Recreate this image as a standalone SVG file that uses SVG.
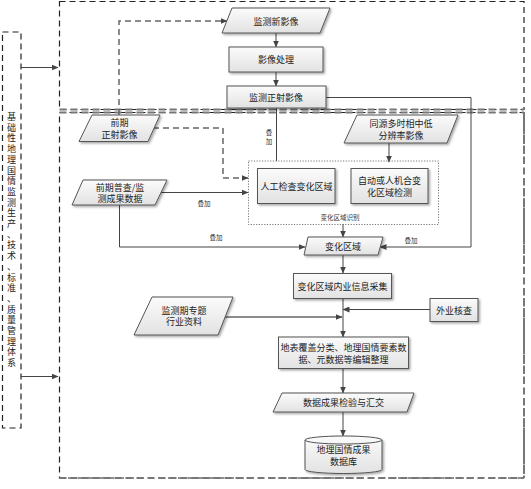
<svg xmlns="http://www.w3.org/2000/svg" width="531" height="489" viewBox="0 0 531 489">
<style>
.node{fill:url(#g);stroke:#555;stroke-width:1;filter:url(#sh)}
.t{font-family:"Noto Sans CJK SC","Noto Sans",sans-serif;font-size:9px;fill:#222;text-anchor:middle;dominant-baseline:central}
.s{font-family:"Noto Sans CJK SC","Noto Sans",sans-serif;font-size:6.5px;fill:#333;text-anchor:middle;dominant-baseline:central}
.v{font-family:"Liberation Sans","Noto Sans CJK SC",sans-serif;font-size:9px;fill:#222;text-anchor:middle;dominant-baseline:central}
.c{fill:none;stroke:#444;stroke-width:1}
.cd{fill:none;stroke:#666;stroke-width:1.5;stroke-dasharray:6,4}
.box{fill:none;stroke:#222;stroke-width:1.2;stroke-dasharray:6,4}
.edge{fill:none;stroke:#777;stroke-width:2;stroke-dasharray:7,4}
</style>
<defs>
<linearGradient id="g" x1="0" y1="0" x2="0" y2="1">
<stop offset="0" stop-color="#fbfbfb"/>
<stop offset="1" stop-color="#e2e2e2"/>
</linearGradient>
<filter id="sh" x="-10%" y="-10%" width="130%" height="140%">
<feDropShadow dx="1.5" dy="1.5" stdDeviation="0.8" flood-color="#000" flood-opacity="0.35"/>
</filter>
<marker id="a" markerWidth="7" markerHeight="6" refX="6.5" refY="3" orient="auto" markerUnits="userSpaceOnUse">
<path d="M0,0 L7,3 L0,6 z" fill="#444"/>
</marker>
</defs>

<g id="frames">
<rect x="2.5" y="32" width="18.5" height="396" class="box"/>
<rect x="59.5" y="1.5" width="464.5" height="108" class="box"/>
<path d="M59.5,109.5 H524" class="edge"/>
<rect x="59.5" y="112.5" width="464.5" height="365.5" class="box"/>
<path d="M59.5,112.5 H524 M59.5,478 H524 M524,112.5 V478" class="edge"/>
</g>

<g id="side-label">
<text class="v" x="11.5" y="117">基</text>
<text class="v" x="11.5" y="127.7">础</text>
<text class="v" x="11.5" y="138.4">性</text>
<text class="v" x="11.5" y="149.1">地</text>
<text class="v" x="11.5" y="159.8">理</text>
<text class="v" x="11.5" y="170.5">国</text>
<text class="v" x="11.5" y="181.2">情</text>
<text class="v" x="11.5" y="191.9">监</text>
<text class="v" x="11.5" y="202.6">测</text>
<text class="v" x="11.5" y="213.3">生</text>
<text class="v" x="11.5" y="224">产</text>
<text class="v" x="11.5" y="234.7">、</text>
<text class="v" x="11.5" y="245.4">技</text>
<text class="v" x="11.5" y="256.1">术</text>
<text class="v" x="11.5" y="266.8">、</text>
<text class="v" x="11.5" y="277.5">标</text>
<text class="v" x="11.5" y="288.2">准</text>
<text class="v" x="11.5" y="298.9">、</text>
<text class="v" x="11.5" y="309.6">质</text>
<text class="v" x="11.5" y="320.3">量</text>
<text class="v" x="11.5" y="331">管</text>
<text class="v" x="11.5" y="341.7">理</text>
<text class="v" x="11.5" y="352.4">体</text>
<text class="v" x="11.5" y="363.1">系</text>
</g>

<g id="connectors">
<path d="M21,67.5 H58" class="c" marker-end="url(#a)"/>
<path d="M21,376.5 H58" class="c" marker-end="url(#a)"/>
<path d="M276,33 V47" class="c" marker-end="url(#a)"/>
<path d="M276,72 V86" class="c" marker-end="url(#a)"/>
<path d="M119,115 V21 H227" class="cd" marker-end="url(#a)"/>
<path d="M153,128 H223 V178 H248" class="cd" marker-end="url(#a)"/>
<path d="M160,192.5 H248" class="c" marker-end="url(#a)"/>
<path d="M119.5,205 V247 H305" class="c" marker-end="url(#a)"/>
<path d="M276.5,108 V161" class="c"/>
<path d="M326,97.5 H471 V247 H380" class="c" marker-end="url(#a)"/>
<path d="M389,143 V162" class="c" marker-end="url(#a)"/>
<path d="M343,224 V237" class="c" marker-end="url(#a)"/>
<path d="M343,255 V273" class="c" marker-end="url(#a)"/>
<path d="M343,298 V337" class="c" marker-end="url(#a)"/>
<path d="M430,309.5 H343" class="c" marker-end="url(#a)"/>
<path d="M225,317 H342" fill="none" stroke="#666" stroke-width="1.6" marker-end="url(#a)"/>
<path d="M343,368 V393" class="c" marker-end="url(#a)"/>
<path d="M343,412 V436" class="c" marker-end="url(#a)"/>
<text class="s" x="204" y="203">叠加</text>
<text class="s" x="216" y="237">叠加</text>
<text class="s" x="269" y="132">叠</text>
<text class="s" x="269" y="141">加</text>
<text class="s" x="411" y="240">叠加</text>
</g>

<g id="n-xinyingxiang">
<path d="M232,8 H330 L320,33 H222 Z" class="node"/>
<text class="t" x="276" y="21">监测新影像</text>
</g>
<g id="n-chuli">
<rect x="229" y="47" width="94" height="25" class="node"/>
<text class="t" x="276" y="59.5">影像处理</text>
</g>
<g id="n-zhengshe">
<rect x="227" y="86" width="99" height="22" class="node"/>
<text class="t" x="276" y="97">监测正射影像</text>
</g>
<g id="n-qianqi">
<path d="M92,115 H160 L148,141.5 H79 Z" class="node"/>
<text class="t" x="119.5" y="122.5">前期</text>
<text class="t" x="119.5" y="134">正射影像</text>
</g>
<g id="n-pucha">
<path d="M83,180 H167 L155,205 H72 Z" class="node"/>
<text class="t" x="120" y="187">前期普查/监</text>
<text class="t" x="120" y="198.5">测成果数据</text>
</g>
<g id="n-tongyuan">
<path d="M357,115 H458 L447,143 H344 Z" class="node"/>
<text class="t" x="401" y="123">同源多时相中低</text>
<text class="t" x="401" y="135">分辨率影像</text>
</g>
<g id="n-shibie">
<rect x="248.5" y="161" width="190" height="63.5" fill="none" stroke="#555" stroke-width="0.8" stroke-dasharray="1.2,1.5"/>
<text class="s" x="340" y="216.5">变化区域识别</text>
</g>
<g id="n-rengong">
<rect x="257.5" y="168.5" width="77.5" height="35" class="node"/>
<text class="t" x="296.5" y="186">人工检查变化区域</text>
</g>
<g id="n-zidong">
<rect x="351" y="168.5" width="77" height="35" class="node"/>
<text class="t" x="389.5" y="180.5">自动或人机合变</text>
<text class="t" x="389.5" y="192.5">化区域检测</text>
</g>
<g id="n-bianhua">
<path d="M308,237 H383 L378,255 H304 Z" class="node"/>
<text class="t" x="343" y="246">变化区域</text>
</g>
<g id="n-caiji">
<rect x="293.5" y="273.5" width="98" height="25" class="node"/>
<text class="t" x="342.5" y="286">变化区域内业信息采集</text>
</g>
<g id="n-waiye">
<rect x="430" y="298.5" width="48" height="23" class="node"/>
<text class="t" x="454" y="310">外业核查</text>
</g>
<g id="n-zhuanti">
<path d="M152,297 H233 L218,335 H134 Z" class="node"/>
<text class="t" x="184" y="310">监测期专题</text>
<text class="t" x="184" y="321.5">行业资料</text>
</g>
<g id="n-bianji">
<rect x="278.5" y="337" width="130" height="31.5" class="node"/>
<text class="t" x="343.5" y="347.5">地表覆盖分类、地理国情要素数</text>
<text class="t" x="343.5" y="359">据、元数据等编辑整理</text>
</g>
<g id="n-jianyan">
<path d="M282,393 H414 L407,412 H273 Z" class="node"/>
<text class="t" x="343.5" y="402.5">数据成果检验与汇交</text>
</g>
<g id="n-shujuku">
<path d="M305,440 A38.5,4 0 0 1 382,440 V469.5 A38.5,4 0 0 1 305,469.5 Z" class="node"/>
<path d="M305,440 A38.5,4 0 0 0 382,440" fill="none" stroke="#555" stroke-width="1"/>
<text class="t" x="343.5" y="449.5">地理国情成果</text>
<text class="t" x="343.5" y="461">数据库</text>
</g>
</svg>
